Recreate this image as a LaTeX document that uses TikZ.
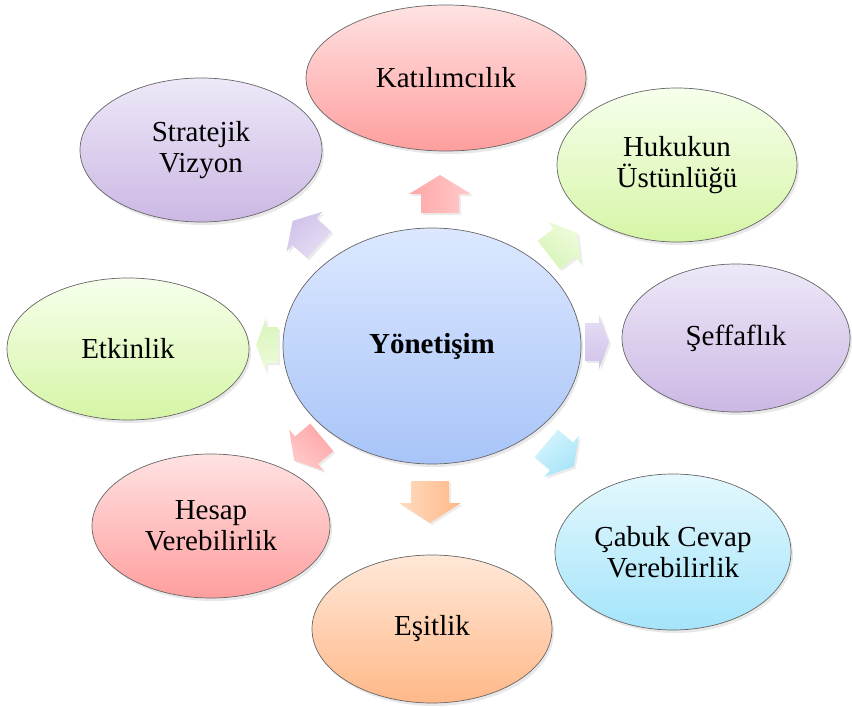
\documentclass[tikz,border=0pt]{standalone}
\usepackage{fontspec}
\setmainfont{Liberation Serif}
\usetikzlibrary{shapes.geometric,shadows}
\definecolor{pkT}{HTML}{FFE2E2}\definecolor{pkB}{HTML}{FF9E9E}
\definecolor{grT}{HTML}{F6FFEC}\definecolor{grB}{HTML}{D6F5A6}
\definecolor{puT}{HTML}{EEE8F8}\definecolor{puB}{HTML}{CBB8E4}
\definecolor{cyT}{HTML}{E4F8FE}\definecolor{cyB}{HTML}{A4E4FA}
\definecolor{peT}{HTML}{FFE8D8}\definecolor{peB}{HTML}{FFB888}
\definecolor{blT}{HTML}{DCE8FF}\definecolor{blB}{HTML}{A8C4F8}
\definecolor{aPkT}{HTML}{FFCACA}\definecolor{aPkB}{HTML}{FFA6A6}
\definecolor{aGrT}{HTML}{EEFCDC}\definecolor{aGrB}{HTML}{D8F4B8}
\definecolor{aPuT}{HTML}{E6DEF4}\definecolor{aPuB}{HTML}{D0C2EA}
\definecolor{aCyT}{HTML}{D4F4FD}\definecolor{aCyB}{HTML}{A8E4F8}
\definecolor{aPeT}{HTML}{FFDCC0}\definecolor{aPeB}{HTML}{FFB888}
\begin{document}
\begin{tikzpicture}[x=1pt,y=-1pt,
  bub/.style={ellipse, draw=black!60, line width=0.7pt, inner sep=0pt, align=center,
    font=\fontsize{29}{31}\selectfont,
    drop shadow={opacity=0.18, shadow xshift=2pt, shadow yshift=-3pt}},
  pinkfill/.style={top color=pkT, bottom color=pkB},
  greenfill/.style={top color=grT, bottom color=grB},
  purplefill/.style={top color=puT, bottom color=puB},
  cyanfill/.style={top color=cyT, bottom color=cyB},
  peachfill/.style={top color=peT, bottom color=peB},
  bluefill/.style={top color=blT, bottom color=blB}]
\useasboundingbox (0,0) rectangle (852,707);

% outward block arrows
\foreach \cx/\cy/\ang/\L/\W/\s/\h/\ct/\cb in {
   440/194/90/38/62/38/19/aPkT/aPkB,
   563/244/38/36/54/36/16/aGrT/aGrB,
   597/342/0/24/55/38/10/aPuT/aPuB,
   560/455/-40/36/54/36/16/aCyT/aCyB,
   430/502/-90/42/62/38/20/aPeT/aPeB,
   308/449/-140/36/54/36/16/aPkT/aPkB,
   267/345/180/22/54/36/10/aGrT/aGrB,
   306/233/138/36/54/36/16/aPuT/aPuB}{
  \begin{scope}[shift={(\cx,\cy)}, rotate=\ang]
    \path[top color=\ct, bottom color=\cb, shading angle={-\ang},
          drop shadow={opacity=0.15, shadow xshift=2pt, shadow yshift=-2pt}]
      ({-\L/2},{-\s/2}) -- ({\L/2-\h},{-\s/2}) -- ({\L/2-\h},{-\W/2}) -- ({\L/2},0)
      -- ({\L/2-\h},{\W/2}) -- ({\L/2-\h},{\s/2}) -- ({-\L/2},{\s/2}) -- cycle;
  \end{scope}
}

% centre
\node[bub, bluefill, minimum width=298pt, minimum height=236pt] (core) at (432,346) {\textbf{Yönetişim}};

% surrounding ellipses
\node[bub, pinkfill,   minimum width=280pt, minimum height=146pt] (kat) at (446,78) {Katılımcılık};
\node[bub, greenfill,  minimum width=240pt, minimum height=154pt] (huk) at (677,165) {Hukukun\\Üstünlüğü};
\node[bub, purplefill, minimum width=228pt, minimum height=148pt] (sef) at (736,338) {Şeffaflık};
\node[bub, cyanfill,   minimum width=236pt, minimum height=156pt] (cab) at (673,552) {Çabuk Cevap\\Verebilirlik};
\node[bub, peachfill,  minimum width=240pt, minimum height=148pt] (esi) at (432,629) {Eşitlik};
\node[bub, pinkfill,   minimum width=238pt, minimum height=144pt] (hes) at (211,526) {Hesap\\Verebilirlik};
\node[bub, greenfill,  minimum width=242pt, minimum height=142pt] (etk) at (128,349) {Etkinlik};
\node[bub, purplefill, minimum width=242pt, minimum height=144pt] (str) at (201,150) {Stratejik\\Vizyon};
\end{tikzpicture}
\end{document}
